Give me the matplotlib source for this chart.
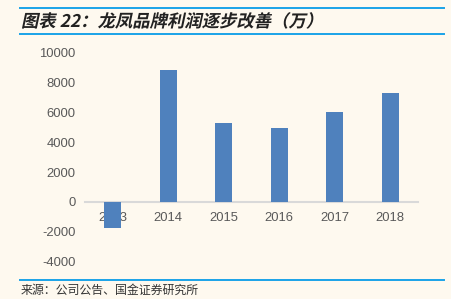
import matplotlib.pyplot as plt
from matplotlib.lines import Line2D
from matplotlib.textpath import TextPath
from matplotlib.patches import PathPatch
from matplotlib.font_manager import FontProperties
from matplotlib.transforms import Affine2D, IdentityTransform

plt.rcParams['font.family'] = ['Liberation Sans', 'Noto Sans CJK SC', 'DejaVu Sans']

# ===================== ДАННЫЕ =====================
years = ['2013', '2014', '2015', '2016', '2017', '2018']
profit = [-1750, 8820, 5280, 4970, 6010, 7310]
yticks = [-4000, -2000, 0, 2000, 4000, 6000, 8000, 10000]

BG = '#FEF9EF'
BAR = '#4F81BD'
LINE = '#1AA3E8'
GRAY = '#595959'
DPI = 100

fig = plt.figure(figsize=(4.52, 2.99), dpi=DPI, facecolor=BG)
ax = fig.add_axes([85/452, (299-261.6)/299, 333/452, (261.6-52.7)/299])
ax.set_facecolor(BG)

x = range(len(years))
ax.bar(x, profit, width=0.31, color=BAR, zorder=2)

ax.set_xlim(-0.5, len(years) - 0.5)
ax.set_ylim(-4000, 10000)
ax.set_yticks(yticks)
ax.set_yticklabels([str(v) for v in yticks])
ax.set_xticks(list(x))
ax.set_xticklabels(years)

for s in ['top', 'right', 'left']:
    ax.spines[s].set_visible(False)
ax.spines['bottom'].set_position(('data', 0))
ax.spines['bottom'].set_color('#D9D9D9')
ax.spines['bottom'].set_linewidth(1.5)
ax.spines['bottom'].set_zorder(1)
ax.tick_params(axis='both', length=0, colors=GRAY, labelsize=9.4)
ax.tick_params(axis='y', pad=7)
ax.tick_params(axis='x', pad=7.5)
for lab in ax.get_xticklabels():
    lab.set_zorder(3)

# ===================== ОФОРМЛЕНИЕ =====================
for yy in [7.5, 34.3, 280.3]:
    fig.add_artist(Line2D([20/452, 444/452], [1 - yy/299, 1 - yy/299],
                          color=LINE, linewidth=1.4, transform=fig.transFigure))

# заголовок курсивом: наклоняем контур текста
title = '图表 22：龙凤品牌利润逐步改善（万）'
tp = TextPath((0, 0), title, size=12.5,
              prop=FontProperties(family='Noto Sans CJK SC', weight='bold'))
tr = Affine2D().scale(DPI / 72).skew_deg(12, 0).translate(21, 299 - 27)
fig.add_artist(PathPatch(tp, transform=tr + IdentityTransform(),
                         facecolor='#222222', edgecolor='none'))

fig.text(21/452, 1 - 290/299, '来源：公司公告、国金证券研究所',
         family=['Noto Sans CJK SC', 'DejaVu Sans'], fontsize=8.6,
         color='#333333', ha='left', va='center')

plt.savefig('out.png', dpi=DPI, facecolor=BG)
plt.close()
